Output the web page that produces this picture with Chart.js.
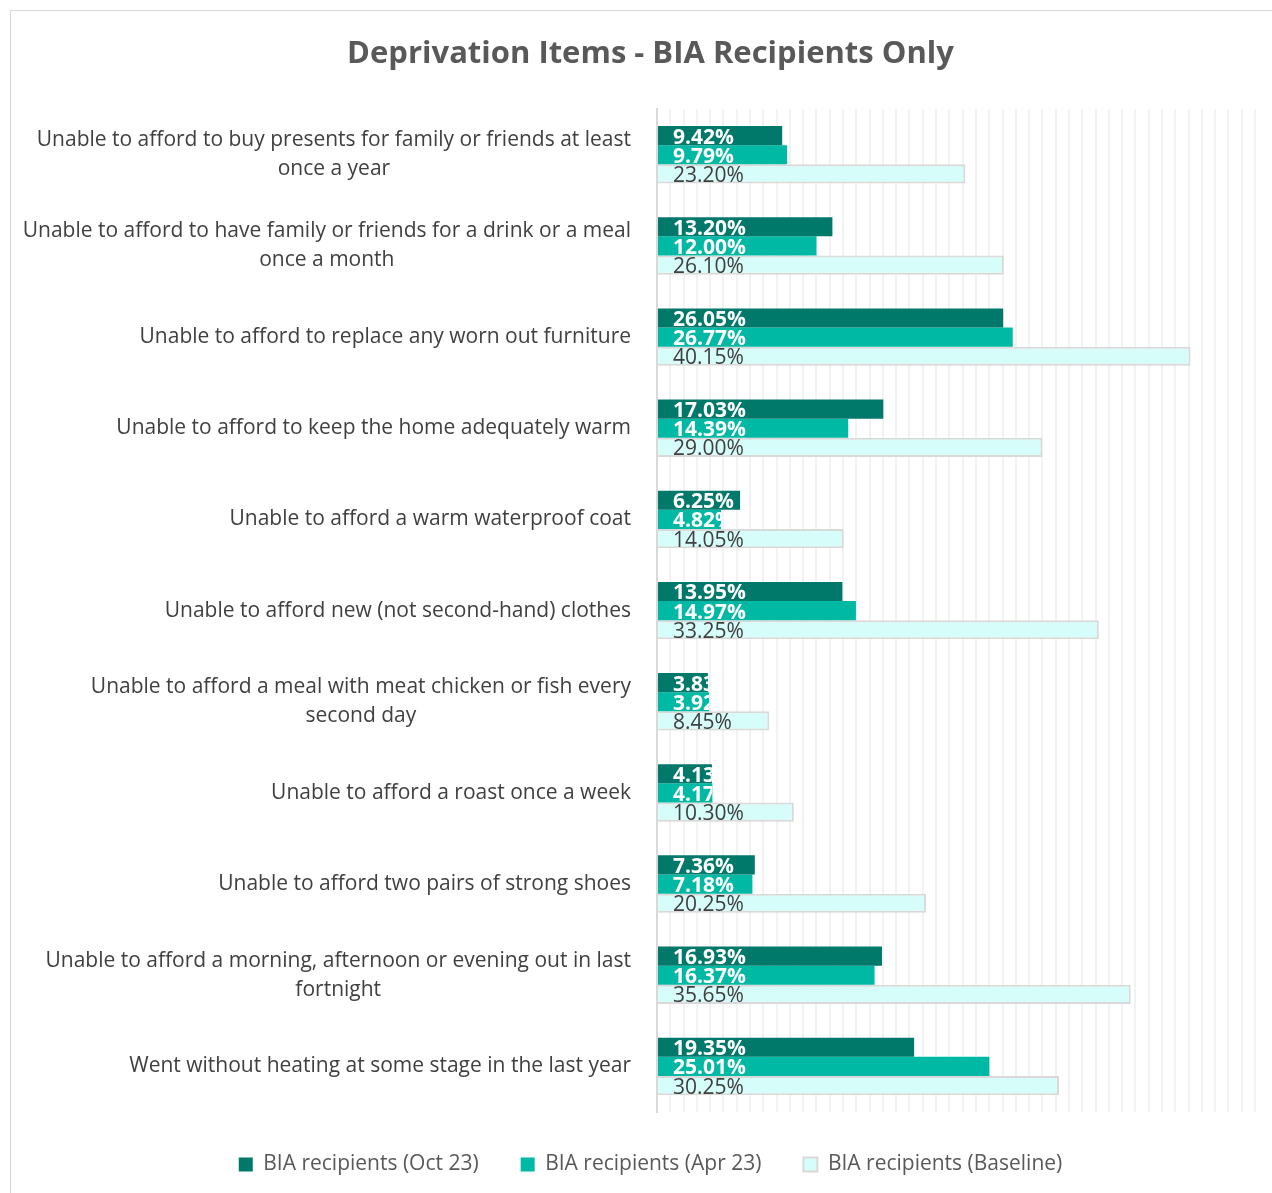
<!DOCTYPE html>
<html>
<head>
<meta charset="utf-8">
<script src="https://cdn.jsdelivr.net/npm/chart.js@4"></script>
<style>
  html, body { margin: 0; padding: 0; background: #fff; }
  #wrap { position: relative; width: 1272px; height: 1193px; }
</style>
</head>
<body>
<div id="wrap"><canvas id="deprivationChart"></canvas></div>
<script>
// Deprivation items chart

const categories = [
  ["Unable to afford to buy presents for family or friends at least", "once a year"],
  ["Unable to afford to have family or friends for a drink or a meal", "once a month"],
  "Unable to afford to replace any worn out furniture",
  "Unable to afford to keep the home adequately warm",
  "Unable to afford a warm waterproof coat",
  "Unable to afford new (not second-hand) clothes",
  ["Unable to afford a meal with meat chicken or fish every", "second day"],
  "Unable to afford a roast once a week",
  "Unable to afford two pairs of strong shoes",
  ["Unable to afford a morning, afternoon or evening out in last", "fortnight"],
  "Went without heating at some stage in the last year"
];

const oct23 = [9.42, 13.20, 26.05, 17.03, 6.25, 13.95, 3.83, 4.13, 7.36, 16.93, 19.35];
const apr23 = [9.79, 12.00, 26.77, 14.39, 4.82, 14.97, 3.92, 4.17, 7.18, 16.37, 25.01];
const baseline = [23.20, 26.10, 40.15, 29.00, 14.05, 33.25, 8.45, 10.30, 20.25, 35.65, 30.25];

const seriesNames = ["BIA recipients (Oct 23)", "BIA recipients (Apr 23)", "BIA recipients (Baseline)"];

const FONT = "'Open Sans', sans-serif";

// outer frame like the Excel chart area
const framePlugin = {
  id: "frame",
  beforeDraw(chart) {
    const ctx = chart.ctx;
    ctx.save();
    ctx.strokeStyle = "#d9d9d9";
    ctx.lineWidth = 1;
    ctx.strokeRect(10.5, 10.5, 1400, 1400);
    ctx.restore();
  }
};

// category labels: right aligned block, lines centred within it
const categoryLabels = {
  id: "categoryLabels",
  afterDraw(chart) {
    const ctx = chart.ctx;
    const y = chart.scales.y;
    const right = 631;
    const lineH = 29;
    ctx.save();
    ctx.font = "21px " + FONT;
    ctx.fillStyle = "#404040";
    ctx.textAlign = "center";
    ctx.textBaseline = "middle";
    categories.forEach((lab, i) => {
      const lines = Array.isArray(lab) ? lab : [lab];
      const w = Math.max(...lines.map(l => ctx.measureText(l).width));
      const cx = right - w / 2;
      const cy = y.getPixelForValue(i);
      lines.forEach((l, j) => {
        ctx.fillText(l, cx, cy + (j - (lines.length - 1) / 2) * lineH);
      });
    });
    ctx.restore();
  }
};

// value labels inside the bars, clipped to the bar
const barLabels = {
  id: "barLabels",
  afterDatasetsDraw(chart) {
    const ctx = chart.ctx;
    chart.data.datasets.forEach((ds, di) => {
      const meta = chart.getDatasetMeta(di);
      meta.data.forEach((bar, i) => {
        const h = bar.height;
        ctx.save();
        ctx.beginPath();
        ctx.rect(bar.base, bar.y - h / 2, bar.x - bar.base, h);
        ctx.clip();
        ctx.font = (di < 2 ? "bold " : "") + "21px " + FONT;
        ctx.fillStyle = di < 2 ? "#ffffff" : "#404040";
        ctx.textBaseline = "middle";
        ctx.fillText(ds.data[i].toFixed(2) + "%", bar.base + 15, bar.y + 2);
        ctx.restore();
      });
    });
  }
};

new Chart(document.getElementById("deprivationChart"), {
  type: "bar",
  data: {
    labels: categories,
    datasets: [
      { label: seriesNames[0], data: oct23, backgroundColor: "#00786a", borderWidth: 0 },
      { label: seriesNames[1], data: apr23, backgroundColor: "#00b9a4", borderWidth: 0 },
      { label: seriesNames[2], data: baseline, backgroundColor: "#d6fdf9", borderColor: "#d9d9d9", borderWidth: 2 }
    ]
  },
  options: {
    indexAxis: "y",
    responsive: true,
    maintainAspectRatio: false,
    animation: false,
    datasets: { bar: { categoryPercentage: 0.63, barPercentage: 1 } },
    layout: { padding: { left: 46, right: 17, top: 0, bottom: 8 } },
    scales: {
      x: {
        min: 0,
        max: 45,
        ticks: { display: false, stepSize: 1 },
        grid: { color: "#f2f2f2", lineWidth: 2, drawTicks: false },
        border: { display: false },
        afterFit: s => { s.height = 0; }
      },
      y: {
        ticks: { display: false },
        grid: { display: false },
        border: { color: "#d9d9d9", width: 2 },
        afterFit: s => { s.width = 611; }
      }
    },
    plugins: {
      title: {
        display: true,
        text: "Deprivation Items - BIA Recipients Only",
        color: "#595959",
        font: { family: FONT, size: 31, weight: "bold" },
        padding: { top: 36, bottom: 36 }
      },
      legend: {
        position: "bottom",
        maxHeight: 75,
        labels: {
          color: "#595959",
          font: { family: FONT, size: 21 },
          boxWidth: 14,
          boxHeight: 14,
          padding: 42
        }
      },
      tooltip: { enabled: false }
    }
  },
  plugins: [framePlugin, categoryLabels, barLabels]
});
</script>
</body>
</html>
